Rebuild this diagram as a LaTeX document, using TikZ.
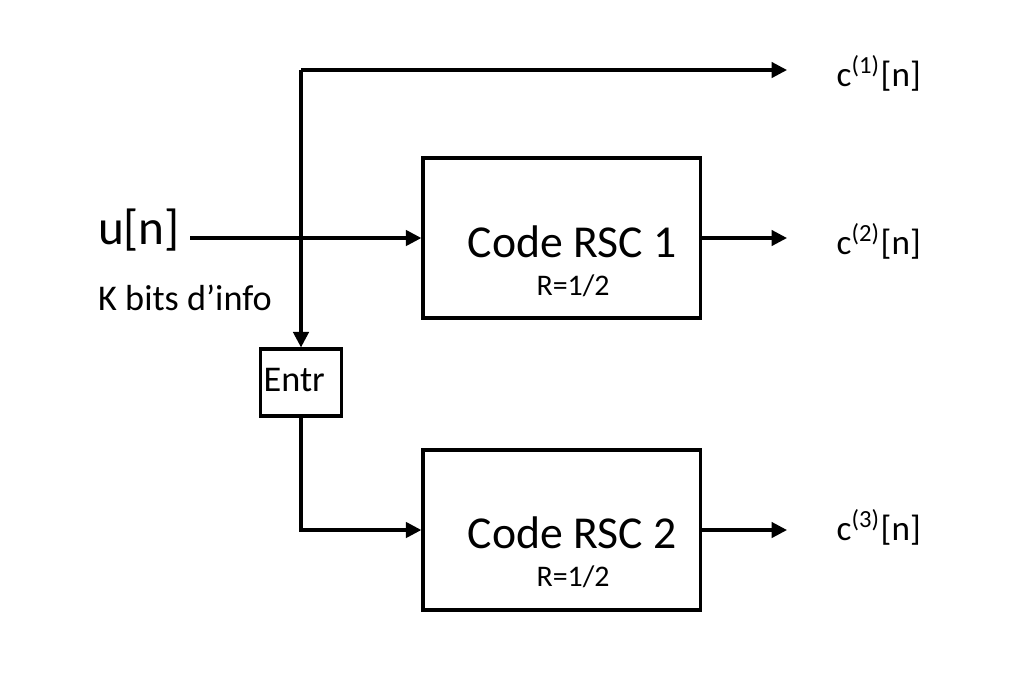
\documentclass[tikz,border=0pt]{standalone}
\usepackage{fontspec}
\setmainfont{Carlito}
\usetikzlibrary{arrows.meta,positioning}
\tikzset{
  tcbox/.style={
    rectangle, draw=black, fill=white, line width=0.9pt,
    minimum width=2.77cm, minimum height=1.6cm, inner sep=0pt
  },
  tcentr/.style={
    rectangle, draw=black, fill=white, line width=0.9pt,
    minimum width=0.81cm, minimum height=0.67cm, inner sep=0pt
  },
  tcsig/.style={-{Triangle[length=4.4pt,width=4.4pt]},line width=0.9pt},
  tcname/.style={font=\fontsize{13}{15}\selectfont,inner sep=0pt},
  tcrate/.style={font=\fontsize{8.5}{10}\selectfont,inner sep=0pt},
  tcin/.style={font=\fontsize{14}{16}\selectfont,inner sep=0pt},
  tcnote/.style={font=\fontsize{10.3}{12}\selectfont,inner sep=0pt},
  tcout/.style={font=\fontsize{10}{12}\selectfont,inner sep=0pt}
}

\begin{document}
\begin{tikzpicture}[x=0.01cm,y=-0.01cm]
\useasboundingbox (0,0) rectangle (1024,690);
% pixel grid of the reference, y pointing down
\node[tcbox] (rsc1) at (561.5,238) {};
\node[tcname] (rsc1name) at (572,242) {Code RSC 1};
\node[tcrate] (rsc1rate) at (573,286) {R=1/2};
\node[tcbox] (rsc2) at (561.5,530) {};
\node[tcname] (rsc2name) at (572,533) {Code RSC 2};
\node[tcrate] (rsc2rate) at (573,577) {R=1/2};
\node[tcentr] (entr) at (301,382.5) {};
\node[tcnote,anchor=west] (entrtxt) at (263,380) {Entr};
\node[tcin] (un) at (139,230) {u[n]};
\node[tcnote] (kbits) at (185,298) {K bits d’info};
\node[tcout,anchor=west] (c1) at (836,73) {c\textsuperscript{(1)}[n]};
\node[tcout,anchor=west] (c2) at (836,241) {c\textsuperscript{(2)}[n]};
\node[tcout,anchor=west] (c3) at (836,527) {c\textsuperscript{(3)}[n]};
\coordinate (uin) at (190,238);
\coordinate (corner) at (301,70);
\coordinate (out1) at (787,70);
\coordinate (out2) at (787,238);
\coordinate (out3) at (787,530);
\draw[tcsig] (uin) -- (rsc1.west);
\draw[tcsig] (corner) -- (out1);
\draw[tcsig] (corner) -- (entr.north);
\draw[tcsig] (entr.south) |- (rsc2.west);
\draw[tcsig] (rsc1.east) -- (out2);
\draw[tcsig] (rsc2.east) -- (out3);
\end{tikzpicture}
\end{document}
